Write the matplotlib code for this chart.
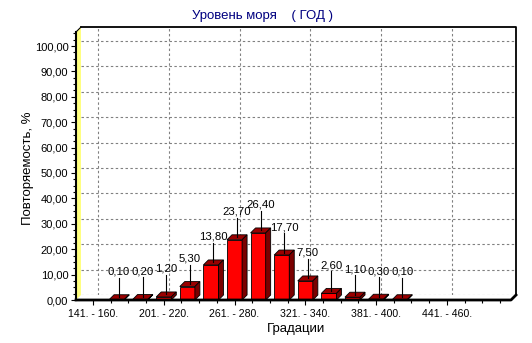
import matplotlib
matplotlib.use("Agg")
import matplotlib.pyplot as plt
from matplotlib.patches import Polygon
from matplotlib.ticker import FixedLocator, MultipleLocator

plt.rcParams['font.family'] = ['Liberation Sans', 'DejaVu Sans']

# gradations of sea level and their repeatability, %
grades = ['141. - 160.', '161. - 180.', '181. - 200.', '201. - 220.', '221. - 240.',
          '241. - 260.', '261. - 280.', '281. - 300.', '301. - 320.', '321. - 340.',
          '341. - 360.', '361. - 380.', '381. - 400.', '401. - 420.', '421. - 440.',
          '441. - 460.', '461. - 480.', '481. - 500.']
freq = [0, 0.10, 0.20, 1.20, 5.30, 13.80, 23.70, 26.40, 17.70, 7.50,
        2.60, 1.10, 0.30, 0.10, 0, 0, 0, 0]
yticks = [0, 10, 20, 30, 40, 50, 60, 70, 80, 90, 100]

W, H = 532, 343
fig = plt.figure(figsize=(W / 100, H / 100), dpi=100)

# front plane of the 3d box, in pixels
left, right, base, top = 76, 511, 300, 32
ax = fig.add_axes([left / W, (H - base) / H, (right - left) / W, (base - top) / H])
x0, x1 = -0.72, len(grades) - 1 + 0.72
ytop = (base - top) / 2.54
ax.set_xlim(x0, x1)
ax.set_ylim(0, ytop)

depth = 5  # px
px_x = (x1 - x0) / (right - left)
px_y = ytop / (base - top)
dx, dy = depth * px_x, depth * px_y

# back wall with its border
ax.add_patch(Polygon([(x0 + dx, dy), (x1 + dx, dy), (x1 + dx, ytop + dy), (x0 + dx, ytop + dy)],
                     closed=True, facecolor='white', edgecolor='none', zorder=0, clip_on=False))
ax.plot([x0 + dx, x1 + dx, x1 + dx], [ytop + dy, ytop + dy, dy], color='black', lw=1.3,
        zorder=1, clip_on=False, solid_capstyle='projecting')

# dashed grid on the back wall
for v in yticks:
    ax.plot([x0 + dx, x1 + dx], [v + dy, v + dy], color='#808080', lw=0.8,
            dashes=(2.2, 2.2), zorder=1, clip_on=False)
major = list(range(0, len(grades), 3))
for i in major:
    ax.plot([i + dx, i + dx], [dy, ytop + dy], color='#808080', lw=0.8,
            dashes=(2.2, 2.2), zorder=1, clip_on=False)

# floor
ax.add_patch(Polygon([(x0, 0), (x1, 0), (x1 + dx, dy), (x0 + dx, dy)], closed=True,
                     facecolor='white', edgecolor='none', zorder=2, clip_on=False))
ax.plot([x0, x1, x1 + dx], [0, 0, dy], color='black', lw=2.0, zorder=6, clip_on=False)

# left wall
ax.add_patch(Polygon([(x0, 0), (x0 + dx, dy), (x0 + dx, ytop + dy), (x0, ytop)], closed=True,
                     facecolor='#ffff80', edgecolor='none', zorder=2, clip_on=False))
ax.plot([x0, x0 + dx], [ytop, ytop + dy], color='black', lw=0.8, zorder=6, clip_on=False)
ax.plot([x0, x0], [0, ytop], color='black', lw=1.5, zorder=6, clip_on=False)

# bars with top and side faces
bw = 0.64
ax.bar(range(len(grades)), freq, width=bw, color='#ff0000', edgecolor='black',
       linewidth=0.6, zorder=4)
for i, v in enumerate(freq):
    if v <= 0:
        continue
    a, b = i - bw / 2, i + bw / 2
    ax.add_patch(Polygon([(a, v), (b, v), (b + dx, v + dy), (a + dx, v + dy)], closed=True,
                         facecolor='#990000', edgecolor='black', lw=0.6, zorder=4))
    ax.add_patch(Polygon([(b, 0), (b + dx, dy), (b + dx, v + dy), (b, v)], closed=True,
                         facecolor='#7a0000', edgecolor='black', lw=0.6, zorder=4))
    xc = i + dx / 2
    ax.plot([xc, xc], [v + dy / 2, v + 22 * px_y], color='black', lw=0.8, zorder=5)
    ax.text(xc, v + 28 * px_y, f'{v:.2f}'.replace('.', ','), ha='center', va='center',
            fontsize=8.2, zorder=7)

# axes, ticks and labels
for s in ax.spines.values():
    s.set_visible(False)
ax.set_yticks(yticks)
ax.set_yticklabels([f'{v:.2f}'.replace('.', ',') for v in yticks])
ax.yaxis.set_minor_locator(MultipleLocator(2.5))
ax.set_xticks(major)
ax.set_xticklabels([grades[i] for i in major])
ax.xaxis.set_minor_locator(FixedLocator([k * 0.75 for k in range(1, 24) if k % 4]))
ax.tick_params(axis='both', which='major', length=3.5, width=0.8, pad=2)
ax.tick_params(axis='y', which='major', labelsize=8)
ax.tick_params(axis='x', which='major', labelsize=7.6, pad=3)
ax.tick_params(axis='both', which='minor', length=2, width=0.8)

fig.text(296 / W, 1 - 329 / H, 'Градации', ha='center', va='center', fontsize=9.5)
fig.text(28 / W, 1 - 168 / H, 'Повторяемость, %', ha='center', va='center',
         rotation=90, fontsize=9.5)
fig.text(262 / W, 1 - 16 / H, 'Уровень моря    ( ГОД )', ha='center', va='center',
         fontsize=9.5, color='#000080')

fig.savefig('out.png', dpi=100)
